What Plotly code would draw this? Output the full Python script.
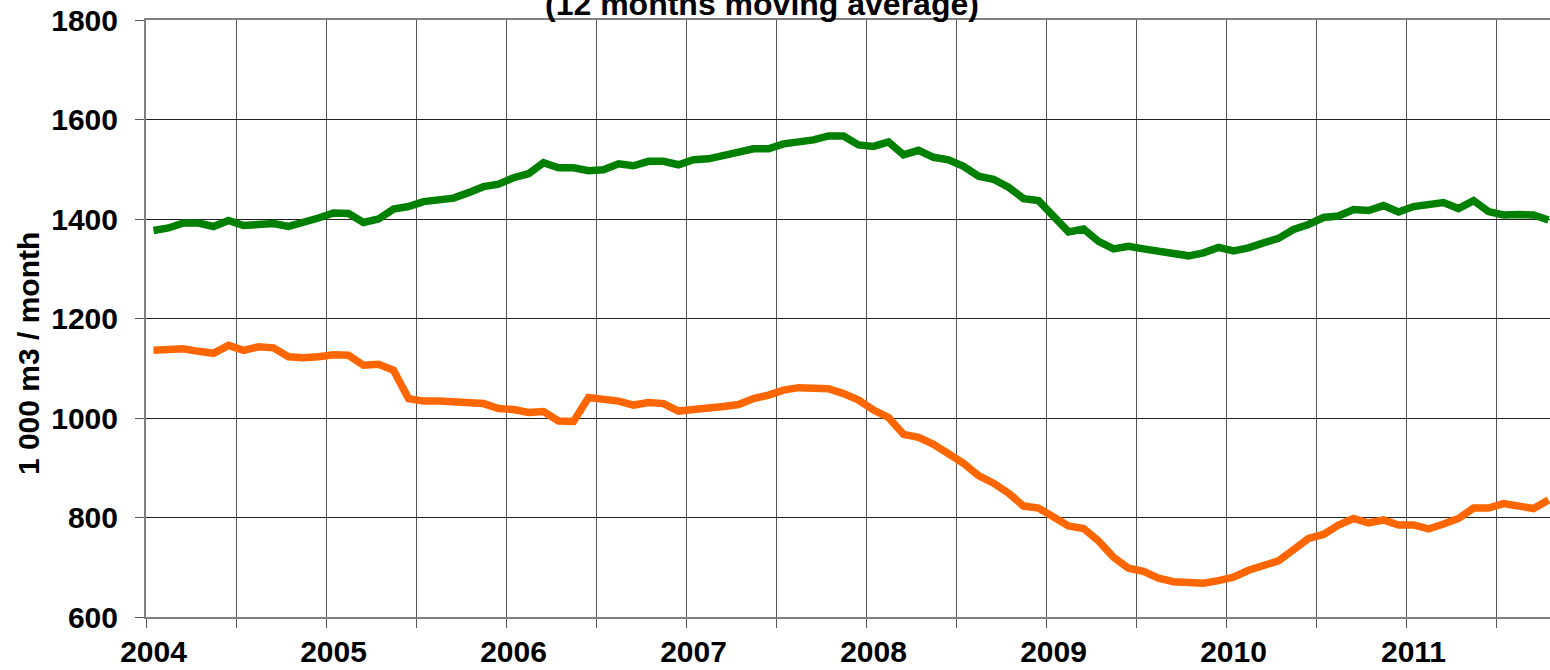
import plotly.graph_objects as go

# Monthly data, Jan 2004 .. Oct 2011 (12 months moving average)
year_labels = ["2004", "2005", "2006", "2007", "2008", "2009", "2010", "2011"]
months_count = 94

green_values = [
    1377, 1382, 1392, 1392, 1385, 1397, 1387, 1389, 1391, 1385, 1392, 1402,
    1412, 1411, 1393, 1400, 1420, 1425, 1435, 1437, 1442, 1453, 1465, 1470,
    1483, 1491, 1513, 1503, 1503, 1497, 1499, 1511, 1507, 1516, 1516, 1509,
    1519, 1521, 1528, 1537, 1541, 1541, 1551, 1555, 1559, 1567, 1567, 1549,
    1546, 1555, 1529, 1538, 1524, 1519, 1506, 1486, 1480, 1464, 1441, 1437,
    1405, 1374, 1380, 1355, 1340, 1345, 1340, 1336, 1331, 1326, 1332, 1343,
    1336, 1342, 1352, 1361, 1379, 1389, 1403, 1406, 1419, 1417, 1427, 1414,
    1425, 1429, 1433, 1421, 1437, 1415, 1408, 1409, 1408, 1398,
]

orange_values = [
    1136, 1136, 1139, 1134, 1130, 1146, 1136, 1143, 1141, 1123, 1121, 1123,
    1127, 1126, 1106, 1108, 1096, 1039, 1034, 1034, 1033, 1032, 1029, 1019,
    1017, 1011, 1013, 994, 993, 1041, 1039, 1034, 1026, 1031, 1029, 1014,
    1017, 1019, 1023, 1027, 1039, 1046, 1056, 1061, 1059, 1059, 1049, 1036,
    1016, 1001, 967, 961, 947, 929, 909, 884, 869, 849, 823, 819,
    800, 783, 778, 753, 720, 698, 692, 678, 671, 668, 668, 673,
    680, 694, 704, 713, 735, 758, 766, 785, 798, 789, 795, 785,
    785, 777, 787, 798, 819, 819, 828, 824, 818, 835,
]

month_index = list(range(months_count))
year_tick_positions = [12 * k for k in range(len(year_labels))]

FONT = "Liberation Sans, Arial, sans-serif"

fig = go.Figure()
fig.add_trace(go.Scatter(x=month_index, y=green_values, mode="lines",
                         line=dict(color="#008000", width=7.5), showlegend=False))
fig.add_trace(go.Scatter(x=month_index, y=orange_values, mode="lines",
                         line=dict(color="#FF6600", width=7.5), showlegend=False))

fig.update_layout(
    width=1550, height=670,
    margin=dict(l=146, r=0, t=20, b=53),
    paper_bgcolor="white", plot_bgcolor="white",
    font=dict(family=FONT, color="black", size=30, weight="bold"),
    xaxis=dict(
        range=[-0.5, 93.1],
        tickmode="array", tickvals=year_tick_positions, ticktext=year_labels,
        ticks="", showgrid=False, zeroline=False, ticklabelstandoff=7,
        showline=True, linecolor="#808080", linewidth=2, mirror=True,
        tickfont=dict(family=FONT, size=30, weight="bold", color="black"),
        minor=dict(tick0=-0.5, dtick=6, showgrid=True, gridcolor="#555555",
                   gridwidth=1, ticks="outside", ticklen=9, tickcolor="#555555",
                   tickwidth=1),
    ),
    yaxis=dict(
        range=[600, 1800], tickmode="linear", tick0=600, dtick=200,
        showgrid=True, gridcolor="#222222", gridwidth=1, zeroline=False,
        showline=True, linecolor="#808080", linewidth=2,
        ticks="outside", ticklen=9, tickcolor="#555555", tickwidth=1,
        ticklabelstandoff=11,
        tickfont=dict(family=FONT, size=30, weight="bold", color="black"),
    ),
)

fig.add_annotation(
    text="1 000 m3 / month", xref="paper", yref="paper",
    x=-0.084, y=0.4405, xanchor="center", yanchor="middle", textangle=-90,
    showarrow=False,
    font=dict(family=FONT, size=30, weight="bold", color="black"),
)

fig.add_annotation(
    text="(12 months moving average)", xref="paper", yref="paper",
    x=0.4387, y=0.993, xanchor="center", yanchor="bottom", showarrow=False,
    font=dict(family=FONT, size=32, weight="bold", color="black"),
)

fig.write_html(
    "out.html",
    config={"displayModeBar": False},
    post_script="document.body.style.margin='0';document.body.style.overflow='hidden';",
)
